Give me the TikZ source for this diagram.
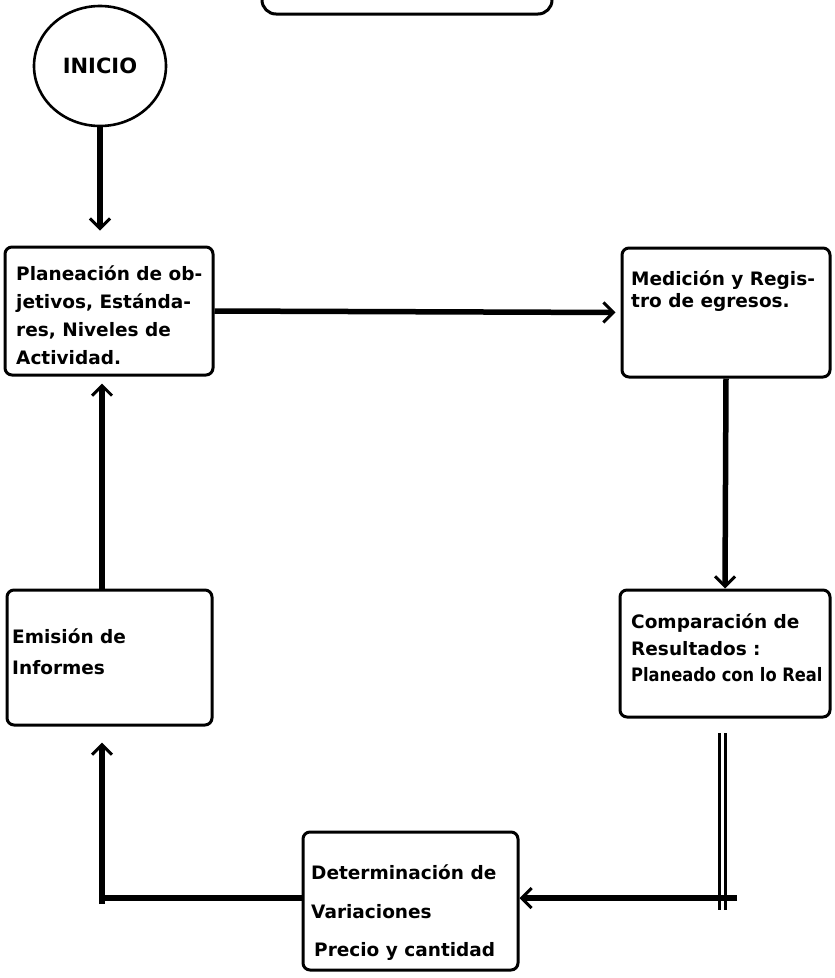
\documentclass[tikz,border=0pt]{standalone}
\usepackage{fontspec}
\usepackage{graphicx}
\setmainfont{DejaVu Sans}
\usetikzlibrary{arrows.meta,shapes.geometric,calc}
\begin{document}
\begin{tikzpicture}[x=1pt,y=-1pt,
  box/.style={draw,line width=3pt,rounded corners=7pt,inner sep=0pt},
  txt/.style={anchor=west,align=left,inner sep=0pt,font=\fontsize{18.5}{#1}\selectfont\bfseries},
  conn/.style={line width=5.5pt},
  thinline/.style={line width=3pt},
  arr/.style={conn,-{Straight Barb[length=10pt,width=20pt,line width=3pt]}},
]
\path[use as bounding box] (0,0) rectangle (835,978);
\clip (0,0) rectangle (835,978);

% partially visible box at top
\node[box,rounded corners=14pt,minimum width=290pt,minimum height=60pt] (top) at (407,-16) {};

\node[draw,line width=2.6pt,ellipse,minimum width=132pt,minimum height=120pt,inner sep=0pt,
      font=\fontsize{21}{21}\selectfont\bfseries] (ini) at (100,66) {INICIO};

\node[box,minimum width=208pt,minimum height=128pt] (b1) at (109,311) {};
\node[box,minimum width=208pt,minimum height=129pt] (b2) at (726,312.5) {};
\node[box,minimum width=210pt,minimum height=127pt] (b3) at (725,653.5) {};
\node[box,minimum width=205pt,minimum height=135pt] (b5) at (109.5,657.5) {};
\node[box,minimum width=215pt,minimum height=138pt] (b4) at (410.5,901) {};

\node[txt=28] (t1) at (16,315) {Planeación de ob-\\jetivos, Estánda-\\res, Niveles de\\Actividad.};
\node[txt=22] (t2) at (631,291) {Medición y Regis-\\tro de egresos.};
\node[txt=26.5] (t3) at (631,648) {Comparación de\\Resultados :\\\scalebox{0.88}[1]{Planeado con lo Real}};
\node[txt=31] (t5) at (12,652) {Emisión de\\Informes};
\node[txt=38.5] (t4) at (311,913) {Determinación de\\Variaciones\\\hspace{3pt}Precio y cantidad};

% connectors
\draw[arr,shorten >=15pt] (ini.south) -- (ini.south |- b1.north);
\draw[arr,shorten >=5pt] (b1.east) -- (b2.west);
\draw[arr] (b2.south) -- (b3.north);

\coordinate (d1) at (719,733);
\coordinate (d2) at (719,910);
\coordinate (e1) at (725,733);
\coordinate (e2) at (725,910);
\draw[thinline] (d1) -- (d2);
\draw[thinline] (e1) -- (e2);
\coordinate (h1) at (737,898);
\draw[arr] (h1) -- (b4.east |- h1);

\coordinate (k) at (102,898);
\coordinate (k2) at (102,904);
\draw[conn] (b4.west |- k) -- (k);
\draw[arr,shorten >=16pt] (k2) -- (k |- b5.south);
\draw[arr,shorten >=7pt] (k |- b5.north) -- (k |- b1.south);
\end{tikzpicture}
\end{document}
